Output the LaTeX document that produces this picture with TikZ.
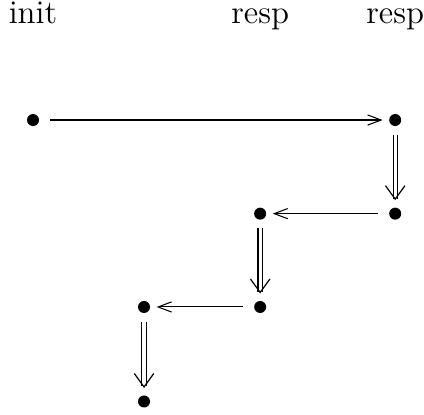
\documentclass[tikz,border=0pt]{standalone}
\usetikzlibrary{positioning, arrows, arrows.meta}

\tikzset{
  dot/.style={circle, fill, inner sep=0pt, minimum size=4pt},
  lbl/.style={anchor=base, inner sep=0pt, font=\fontsize{11pt}{13pt}\selectfont},
  msg/.style={line width=0.35pt, -{Straight Barb[length=4.5pt, width=3.4pt]}, shorten <=3.5pt, shorten >=2pt},
  step down/.style={line width=0.35pt, double, double distance=1.1pt, -{Straight Barb[line width=0.4pt, length=4.5pt, width=6.5pt]}, shorten <=2.7pt, shorten >=2.3pt}
}

\begin{document}
\begin{tikzpicture}
\useasboundingbox (0,0) rectangle (141.3pt,-138.3pt);

\node[dot] (d1) at (11pt,-40pt) {};
\node[dot, right of=d1, node distance=120.7pt] (d2) {};
\node[dot, below of=d2, node distance=31.2pt] (d3) {};
\node[dot, left of=d3, node distance=45pt] (d4) {};
\node[dot, below of=d4, node distance=31.1pt] (d5) {};
\node[dot, left of=d5, node distance=38.7pt] (d6) {};
\node[dot, below of=d6, node distance=31.5pt] (d7) {};

\node[lbl] (init) at ([yshift=32.3pt]d1) {init};
\node[lbl] (resp1) at ([yshift=32.3pt]d1 -| d4) {resp};
\node[lbl] (resp2) at ([yshift=32.3pt]d1 -| d2) {resp};

\draw
    (d1) edge[msg] (d2)
    (d2) edge[step down] (d3)
    (d3) edge[msg] (d4)
    (d4) edge[step down] (d5)
    (d5) edge[msg] (d6)
    (d6) edge[step down] (d7);
\end{tikzpicture}
\end{document}
